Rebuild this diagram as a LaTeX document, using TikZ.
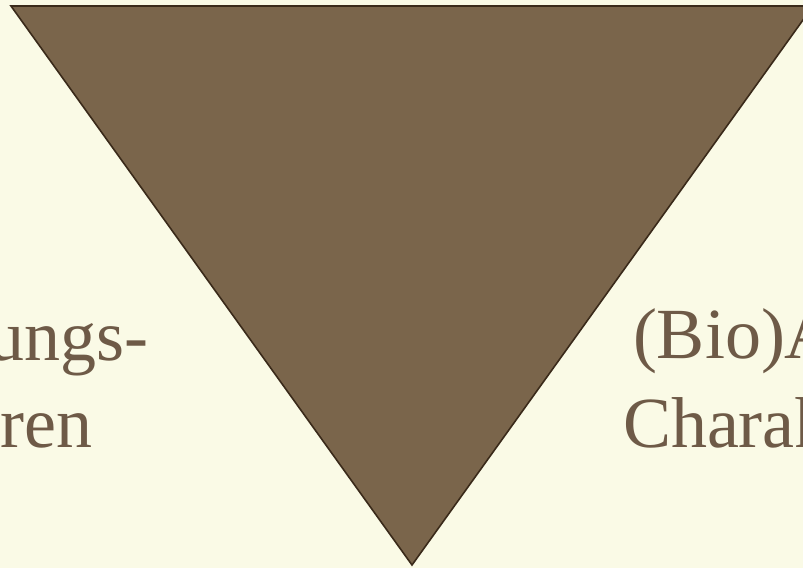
\documentclass[tikz,border=0pt]{standalone}
\usepackage{fontspec}
\setmainfont{Liberation Serif}
\definecolor{bgc}{HTML}{FAFAE6}
\definecolor{trifill}{HTML}{7A654B}
\definecolor{tristroke}{HTML}{3A2A1A}
\definecolor{txt}{HTML}{6E5A47}
\tikzset{lbl/.style={inner sep=0pt,outer sep=0pt,text=txt,font=\fontsize{72}{87}\selectfont}}
\begin{document}
\begin{tikzpicture}[x=1pt,y=-1pt]
\fill[bgc] (0,0) rectangle (803,568);
\useasboundingbox (0,0) rectangle (803,568);
\coordinate (tl) at (11,6);
\coordinate (tr) at (813,6);
\coordinate (bt) at (412,565);
\draw[fill=trifill,draw=tristroke,line width=1.6pt,line join=miter] (tl) -- (tr) -- (bt) -- cycle;
\node[lbl,anchor=base east] (l1) at (148,360) {ungs-};
\node[lbl,anchor=base east] (l2) at (92,447) {ren};
\node[lbl,anchor=base west] (r1) at (633,358) {(Bio)A};
\node[lbl,anchor=base west] (r2) at (623,447) {Charak};
\end{tikzpicture}
\end{document}
